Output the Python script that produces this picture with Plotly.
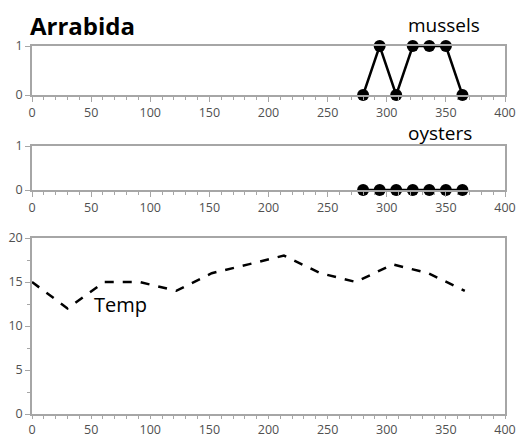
import plotly.graph_objects as go

# Data
mussel_days = [280, 294, 308, 322, 336, 350, 364]
mussel_vals = [0, 1, 0, 1, 1, 1, 0]
oyster_days = [280, 294, 308, 322, 336, 350, 364]
oyster_vals = [0, 0, 0, 0, 0, 0, 0]
temp_days = [0, 30, 61, 91, 122, 152, 183, 213, 244, 274, 305, 335, 366]
temp_vals = [15, 12, 15, 15, 14, 16, 17, 18, 16, 15, 17, 16, 14]

W, H = 532, 437
FONT = "Open Sans"
GRID = "#a6a6a6"
TXT = "#505050"

fig = go.Figure()
fig.add_trace(go.Scatter(x=mussel_days, y=mussel_vals, mode="lines+markers",
                         line=dict(color="black", width=2.5),
                         marker=dict(color="black", size=12),
                         xaxis="x", yaxis="y", showlegend=False, cliponaxis=False))
fig.add_trace(go.Scatter(x=oyster_days, y=oyster_vals, mode="lines+markers",
                         line=dict(color="black", width=2.5),
                         marker=dict(color="black", size=12),
                         xaxis="x2", yaxis="y2", showlegend=False, cliponaxis=False))
fig.add_trace(go.Scatter(x=temp_days, y=temp_vals, mode="lines",
                         line=dict(color="black", width=2.5, dash="dash"),
                         xaxis="x3", yaxis="y3", showlegend=False))

def dom(top_px, bot_px):
    return [(H - bot_px) / H, (H - top_px) / H]

def xax(anchor, ticklen=5):
    return dict(range=[0, 400], tick0=0, dtick=50, showgrid=False, zeroline=False,
                automargin=False, domain=[0, 1], anchor=anchor,
                showline=True, linecolor=GRID, linewidth=1.5, mirror=True,
                ticks="outside", ticklen=ticklen, tickcolor=GRID, tickwidth=1,
                minor=dict(dtick=10, ticks="outside", ticklen=3, tickcolor=GRID),
                tickfont=dict(family=FONT, size=12.5, color=TXT))

ycommon = dict(showgrid=False, zeroline=False, showline=True, linecolor=GRID,
               automargin=False,
               linewidth=1.5, mirror=True, ticks="outside", ticklen=5,
               tickcolor=GRID, tickfont=dict(family=FONT, size=12.5, color=TXT))

fig.update_layout(
    template="none",
    width=W, height=H,
    margin=dict(l=32, r=27, t=0, b=0, pad=0),
    paper_bgcolor="white", plot_bgcolor="white",
    xaxis=xax("y"),
    yaxis=dict(**ycommon, range=[0, 1], tickvals=[0, 1], domain=dom(46, 95), anchor="x"),
    xaxis2=xax("y2"),
    yaxis2=dict(**ycommon, range=[0, 1], tickvals=[0, 1], domain=dom(146, 190), anchor="x2"),
    xaxis3=xax("y3", ticklen=3),
    yaxis3=dict(**ycommon, range=[0, 20], tick0=0, dtick=5, domain=dom(238, 414), anchor="x3",
                minor=dict(dtick=2.5, ticks="outside", ticklen=3, tickcolor=GRID)),
)

fig.add_annotation(text="<b>Arrabida</b>", xref="paper", yref="paper",
                   x=-4 / 473, y=(H - 25) / H, xanchor="left", yanchor="middle",
                   showarrow=False, font=dict(family=FONT, size=24, color="black"))
fig.add_annotation(text="mussels", xref="x", yref="paper", x=348, y=(H - 25) / H,
                   xanchor="center", yanchor="middle", showarrow=False,
                   font=dict(family=FONT, size=19, color="black"))
fig.add_annotation(text="oysters", xref="x2", yref="paper", x=345, y=(H - 133) / H,
                   xanchor="center", yanchor="middle", showarrow=False,
                   font=dict(family=FONT, size=19, color="black"))
fig.add_annotation(text="Temp", xref="x3", yref="y3", x=51, y=12.4,
                   xanchor="left", yanchor="middle", showarrow=False,
                   font=dict(family=FONT, size=20, color="black"))

fig.write_html("out.html", config={"displayModeBar": False},
               post_script="document.body.style.margin='0';document.body.style.overflow='hidden';")
